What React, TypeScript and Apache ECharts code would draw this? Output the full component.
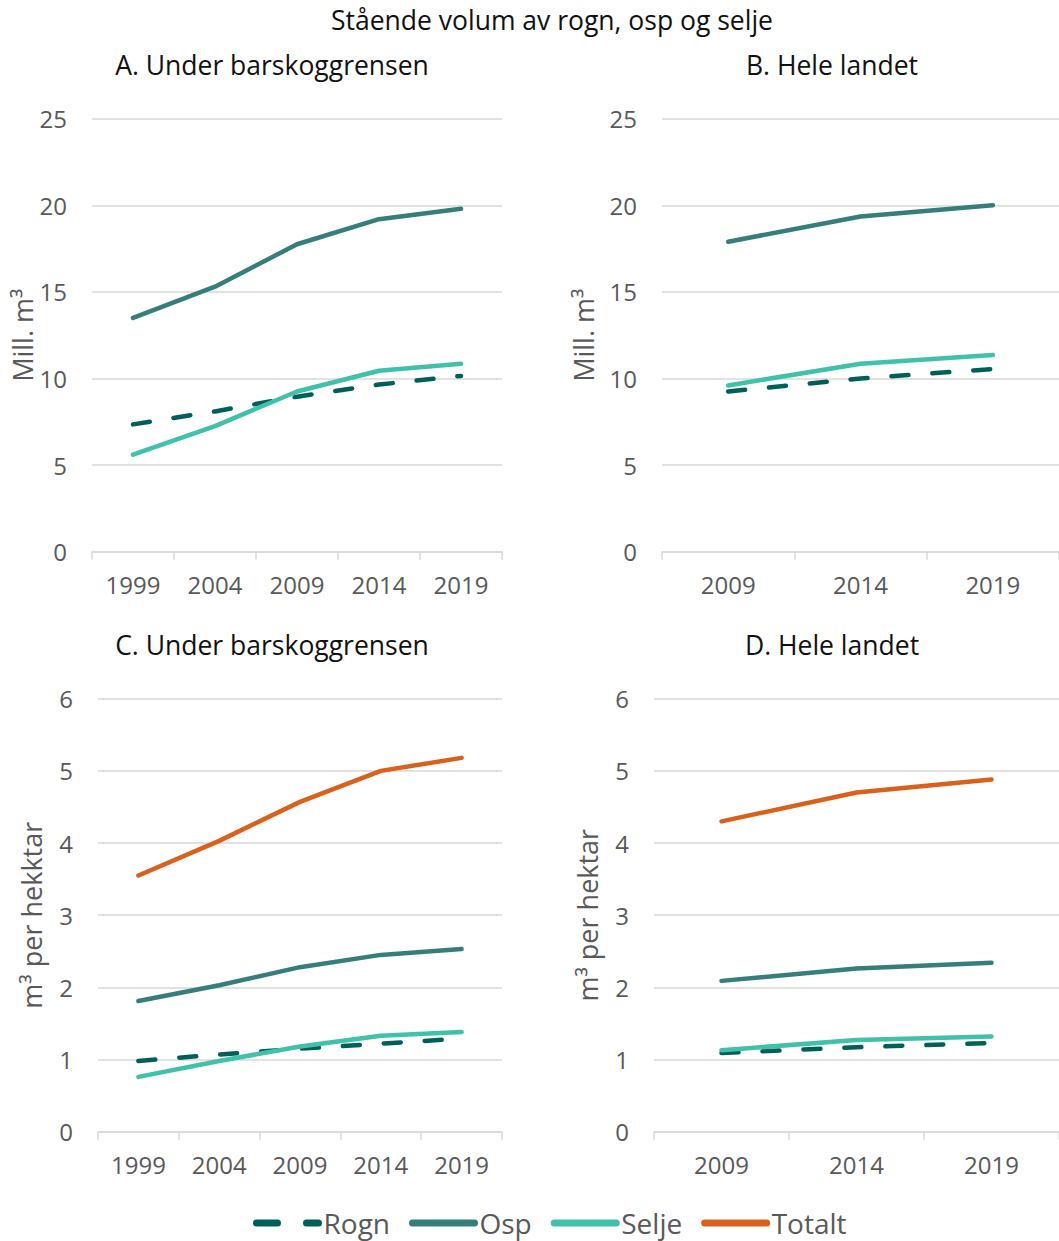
import React, { useEffect, useRef } from "react";
import * as echarts from "echarts";

const years5 = ["1999", "2004", "2009", "2014", "2019"];
const years3 = ["2009", "2014", "2019"];

// A. Under barskoggrensen (mill. m3)
const rognA = [7.35, 8.1, 8.95, 9.65, 10.15];
const ospA = [13.5, 15.3, 17.75, 19.2, 19.8];
const seljeA = [5.6, 7.25, 9.25, 10.45, 10.85];

// B. Hele landet (mill. m3)
const rognB = [9.25, 10.0, 10.55];
const ospB = [17.9, 19.35, 20.0];
const seljeB = [9.6, 10.85, 11.35];

// C. Under barskoggrensen (m3 per hektar)
const rognC = [0.98, 1.07, 1.15, 1.22, 1.29];
const ospC = [1.81, 2.03, 2.28, 2.45, 2.53];
const seljeC = [0.76, 0.98, 1.18, 1.33, 1.38];
const totaltC = [3.55, 4.03, 4.57, 5.0, 5.18];

// D. Hele landet (m3 per hektar)
const rognD = [1.09, 1.17, 1.23];
const ospD = [2.09, 2.26, 2.34];
const seljeD = [1.13, 1.27, 1.32];
const totaltD = [4.3, 4.7, 4.88];

const seriesNames = ["Rogn", "Osp", "Selje", "Totalt"];
const colors: Record<string, string> = {
  Rogn: "#005f59",
  Osp: "#367e7a",
  Selje: "#40c1a9",
  Totalt: "#d9611c",
};

const FONT = "Open Sans";
const GRID_COLOR = "#d9d9d9";
const LABEL_COLOR = "#595959";

export default function App() {
  const ref = useRef<HTMLDivElement>(null);

  useEffect(() => {
    if (!ref.current) return;
    const chart = echarts.init(ref.current, undefined, { renderer: "svg" });

    const grids = [
      { left: 92, top: 118.7, width: 410, height: 433 },
      { left: 662, top: 118.7, width: 399, height: 433 },
      { left: 98, top: 698.7, width: 404, height: 433 },
      { left: 654, top: 698.7, width: 408, height: 433 },
    ];

    const xAxis = [years5, years3, years5, years3].map((cats, i) => ({
      type: "category",
      gridIndex: i,
      data: cats,
      boundaryGap: true,
      axisLine: { show: true, lineStyle: { color: GRID_COLOR, width: 1.5 } },
      axisTick: { show: true, length: 8, lineStyle: { color: GRID_COLOR, width: 1.5 } },
      axisLabel: { color: LABEL_COLOR, fontFamily: FONT, fontSize: 24, margin: 21 },
      splitLine: { show: false },
    }));

    const yAxisBase = (i: number, max: number, interval: number, name: string, gap: number) => ({
      type: "value",
      gridIndex: i,
      min: 0,
      max,
      interval,
      name,
      nameLocation: "middle",
      nameGap: gap,
      nameTextStyle: { color: LABEL_COLOR, fontFamily: FONT, fontSize: 27 },
      axisLine: { show: false },
      axisTick: { show: false },
      axisLabel: { color: LABEL_COLOR, fontFamily: FONT, fontSize: 24, margin: 25 },
      splitLine: { show: true, lineStyle: { color: GRID_COLOR, width: 1.5 } },
    });

    const yAxis = [
      yAxisBase(0, 25, 5, "Mill. m³", 55),
      yAxisBase(1, 25, 5, "Mill. m³", 65),
      yAxisBase(2, 6, 1, "m³ per hekktar", 53),
      yAxisBase(3, 6, 1, "m³ per hektar", 53),
    ];

    const mk = (name: string, data: number[], idx: number) => ({
      type: "line",
      name,
      xAxisIndex: idx,
      yAxisIndex: idx,
      data,
      symbol: "none",
      showSymbol: false,
      smooth: false,
      color: colors[name],
      lineStyle: {
        color: colors[name],
        width: 4.5,
        cap: "round",
        join: "round",
        type: name === "Rogn" ? [17, 24] : "solid",
      },
      emphasis: { disabled: true },
    });

    const series = [
      mk("Rogn", rognA, 0),
      mk("Osp", ospA, 0),
      mk("Selje", seljeA, 0),
      mk("Rogn", rognB, 1),
      mk("Osp", ospB, 1),
      mk("Selje", seljeB, 1),
      mk("Rogn", rognC, 2),
      mk("Osp", ospC, 2),
      mk("Selje", seljeC, 2),
      mk("Totalt", totaltC, 2),
      mk("Rogn", rognD, 3),
      mk("Osp", ospD, 3),
      mk("Selje", seljeD, 3),
      mk("Totalt", totaltD, 3),
    ];

    const titleStyle = { color: "#111111", fontFamily: FONT, fontSize: 26.5, fontWeight: "normal" as const };
    const title = [
      { text: "Stående volum av rogn, osp og selje", left: 552, top: 20 },
      { text: "A. Under barskoggrensen", left: 272, top: 65 },
      { text: "B. Hele landet", left: 832, top: 65 },
      { text: "C. Under barskoggrensen", left: 272, top: 645 },
      { text: "D. Hele landet", left: 832, top: 645 },
    ].map((t) => ({
      ...t,
      padding: 0,
      textAlign: "center",
      textVerticalAlign: "middle",
      textStyle: titleStyle,
    }));

    const legendData = seriesNames.map((n) =>
      n === "Rogn" ? { name: n, lineStyle: { type: [21, 29] } } : { name: n }
    );

    chart.setOption({
      animation: false,
      backgroundColor: "#ffffff",
      title,
      grid: grids,
      xAxis,
      yAxis,
      legend: {
        data: legendData,
        left: 253,
        top: 1209,
        itemWidth: 62,
        itemHeight: 16,
        itemGap: 19,
        padding: 0,
        lineStyle: { width: 7 },
        itemStyle: { opacity: 0 },
        textStyle: { color: LABEL_COLOR, fontFamily: FONT, fontSize: 28 },
      },
      series,
    });

    return () => chart.dispose();
  }, []);

  return (
    <div
      ref={ref}
      style={{ position: "absolute", left: 0, top: 0, width: 1059, height: 1241 }}
    />
  );
}
